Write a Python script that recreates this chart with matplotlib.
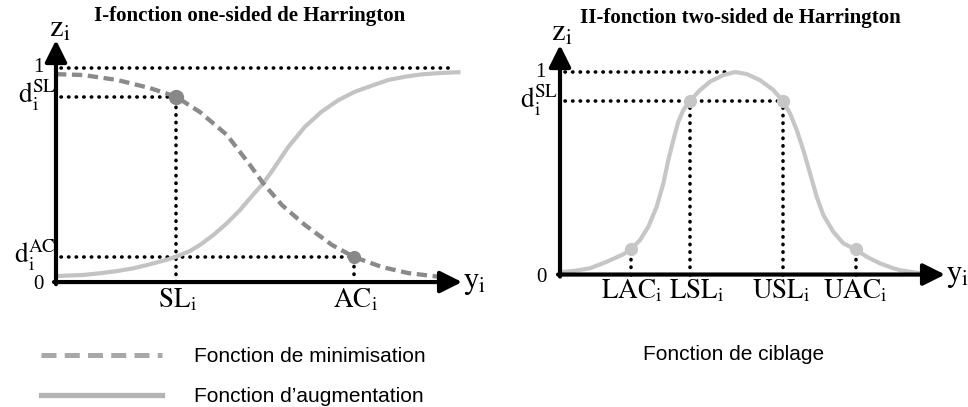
import matplotlib
matplotlib.use("Agg")
import matplotlib.pyplot as plt
from matplotlib.lines import Line2D

plt.rcParams['mathtext.fontset'] = 'stix'
plt.rcParams['font.family'] = ['Liberation Serif', 'DejaVu Serif']

# ---------------- data ----------------
# Left panel: one-sided Harrington functions
left_x_min = [0.0, 0.675, 1.525, 2.35, 3.0, 3.6, 4.275, 4.85, 5.175, 5.65, 6.225, 6.9, 7.45, 8.15, 8.8, 9.65]
left_z_min = [0.97, 0.966, 0.943, 0.905, 0.865, 0.793, 0.686, 0.546, 0.462, 0.359, 0.266, 0.173, 0.117, 0.070, 0.042, 0.023]
left_x_aug = [0.0, 0.68, 1.1, 1.52, 1.93, 2.35, 2.77, 3.0, 3.35, 3.6, 3.93, 4.27, 4.6, 4.85, 5.18,
              5.39, 5.81, 6.225, 6.64, 7.06, 7.475, 7.89, 8.31, 8.725, 9.14, 9.56, 10.06]
left_z_aug = [0.028, 0.033, 0.041, 0.051, 0.064, 0.083, 0.104, 0.118, 0.145, 0.173, 0.219, 0.274, 0.336, 0.391, 0.461,
              0.515, 0.631, 0.725, 0.795, 0.849, 0.888, 0.916, 0.943, 0.958, 0.969, 0.975, 0.979]
left_pts_x = [3.0, 7.45]          # SL_i, AC_i
left_pts_z = [0.865, 0.117]       # d_i^SL, d_i^AC
left_tick_labels = [r'$\mathrm{SL_i}$', r'$\mathrm{AC_i}$']
left_level_labels = [r'$\mathrm{d_i^{SL}}$', r'$\mathrm{d_i^{AC}}$']

# Right panel: two-sided Harrington function
right_x = [0.0, 0.35, 0.75, 1.167, 1.583, 1.767, 2.0, 2.208, 2.417, 2.583, 2.708, 2.833, 2.958, 3.083, 3.25,
           3.5, 3.75, 4.083, 4.375, 4.667, 5.0, 5.333, 5.567, 5.75, 5.917, 6.083, 6.25, 6.417, 6.583,
           6.833, 7.083, 7.392, 7.667, 8.0, 8.333, 8.5, 8.8, 9.05]
right_z = [0.012, 0.018, 0.031, 0.063, 0.100, 0.124, 0.170, 0.236, 0.335, 0.450, 0.565, 0.664, 0.755, 0.812, 0.858,
           0.911, 0.952, 0.985, 1.0, 0.990, 0.960, 0.911, 0.858, 0.796, 0.714, 0.615, 0.500, 0.384, 0.294,
           0.211, 0.154, 0.124, 0.088, 0.055, 0.031, 0.022, 0.012, 0.005]
right_pts_x = [1.767, 3.25, 5.567, 7.392]     # LAC, LSL, USL, UAC
right_pts_z = [0.124, 0.858, 0.858, 0.124]
right_tick_labels = [r'$\mathrm{LAC_i}$', r'$\mathrm{LSL_i}$', r'$\mathrm{USL_i}$', r'$\mathrm{UAC_i}$']
right_tick_pos = [1.79, 3.42, 5.52, 7.375]

titles = ['I-fonction one-sided de Harrington', 'II-fonction two-sided de Harrington']
legend_labels = ['Fonction de minimisation', 'Fonction d\u2019augmentation']
right_legend_label = 'Fonction de ciblage'

# ---------------- figure ----------------
W, H = 968, 407
fig = plt.figure(figsize=(W / 100, H / 100), dpi=100)
fig.patch.set_facecolor('white')

ax1 = fig.add_axes([0, 0, 480 / W, 1])
ax1.set_xlim(-1.4, 10.6)
ax1.set_ylim(-0.583, 1.316)
ax2 = fig.add_axes([480 / W, 0, 488 / W, 1])
ax2.set_xlim(-2.0, 10.2)
ax2.set_ylim(-0.654, 1.3556)
for ax in (ax1, ax2):
    ax.axis('off')

DOT = dict(color='black', lw=2.6, linestyle=(0, (0.1, 2.0)), capstyle='round', zorder=1)
ARROW = dict(arrowstyle='-|>,head_length=0.6,head_width=0.3', lw=3, color='black',
             shrinkA=0, shrinkB=0, mutation_scale=22)
SERIF_MATH = 19.5


def axes_arrows(ax, xtip, ytip):
    ax.annotate('', xy=(xtip, 0), xytext=(-0.05, 0), arrowprops=ARROW, zorder=5)
    ax.annotate('', xy=(0, ytip), xytext=(0, -0.01), arrowprops=ARROW, zorder=5)


# ----- left panel -----
ax1.hlines(1.0, 0.12, 9.95, **DOT)
ax1.hlines(left_pts_z, 0.12, left_pts_x, **DOT)
ax1.vlines(left_pts_x, 0, left_pts_z, **DOT)
ax1.plot(left_x_aug, left_z_aug, color='#c3c3c3', lw=3.0, solid_joinstyle='round', zorder=3)
ax1.plot(left_x_min, left_z_min, color='#8a8a8a', lw=3.1, linestyle=(0, (2.4, 1.3)), zorder=3)
ax1.plot(left_pts_x[0], left_pts_z[0], 'o', color='#888888', ms=11, mec='none', zorder=4)
ax1.plot(left_pts_x[1], left_pts_z[1], 'o', color='#888888', ms=9.5, mec='none', zorder=4)
axes_arrows(ax1, 10.15, 1.129)

ax1.text(4.85, 1.24, titles[0], ha='center', va='center', fontsize=15, fontweight='bold',
         family=['Liberation Serif'])
ax1.text(0.1, 1.145, r'$\mathrm{z_i}$', ha='center', va='baseline', fontsize=22)
ax1.text(-0.45, 1.0, '1', ha='center', va='center', fontsize=15, family=['Liberation Serif'])
ax1.text(-0.45, -0.01, '0', ha='center', va='center', fontsize=15, family=['Liberation Serif'])
for lab, z in zip(left_level_labels, [0.835, 0.089]):
    ax1.text(0.0, z, lab, ha='right', va='baseline', fontsize=SERIF_MATH)
for lab, x in zip(left_tick_labels, [3.04, 7.49]):
    ax1.text(x, -0.117, lab, ha='center', va='baseline', fontsize=SERIF_MATH)
ax1.text(10.18, -0.03, r'$\mathrm{y_i}$', ha='left', va='baseline', fontsize=22)

# ----- right panel -----
ax2.hlines(1.0, 0.12, 4.25, **DOT)
ax2.hlines(right_pts_z[2], 0.12, right_pts_x[2], **DOT)
ax2.vlines(right_pts_x, 0, right_pts_z, **DOT)
ax2.plot(right_x, right_z, color='#c6c6c6', lw=3.0, solid_joinstyle='round', zorder=3)
ax2.plot(right_pts_x, right_pts_z, 'o', color='#c6c6c6', ms=9.5, mec='none', ls='none', zorder=4)
axes_arrows(ax2, 9.625, 1.133)

ax2.text(4.51, 1.267, titles[1], ha='center', va='center', fontsize=15, fontweight='bold',
         family=['Liberation Serif'])
ax2.text(0.05, 1.153, r'$\mathrm{z_i}$', ha='center', va='baseline', fontsize=22)
ax2.text(-0.5, 1.0, '1', ha='center', va='center', fontsize=15, family=['Liberation Serif'])
ax2.text(-0.46, -0.015, '0', ha='center', va='center', fontsize=15, family=['Liberation Serif'])
ax2.text(-0.05, 0.822, r'$\mathrm{d_i^{SL}}$', ha='right', va='baseline', fontsize=SERIF_MATH)
for lab, x in zip(right_tick_labels, right_tick_pos):
    ax2.text(x, -0.118, lab, ha='center', va='baseline', fontsize=SERIF_MATH)
ax2.text(9.65, -0.032, r'$\mathrm{y_i}$', ha='left', va='baseline', fontsize=22)

# ----- legend -----
SANS = ['Liberation Sans', 'DejaVu Sans']
handles = [Line2D([], [], color='#a8a8a8', lw=3.6, linestyle=(0, (3.0, 1.65))),
           Line2D([], [], color='#b4b4b4', lw=3.8)]
leg = fig.legend(handles, legend_labels, loc='upper left', bbox_to_anchor=(41 / W, 1 - 347 / H),
                 frameon=False, handlelength=5.8, handletextpad=1.55, labelspacing=1.03,
                 borderpad=0, borderaxespad=0, prop={'family': SANS, 'size': 15})
fig.text(643 / W, 1 - 355 / H, right_legend_label, ha='left', va='center',
         family=SANS, fontsize=15)

fig.savefig('out.png', dpi=100, facecolor='white')
